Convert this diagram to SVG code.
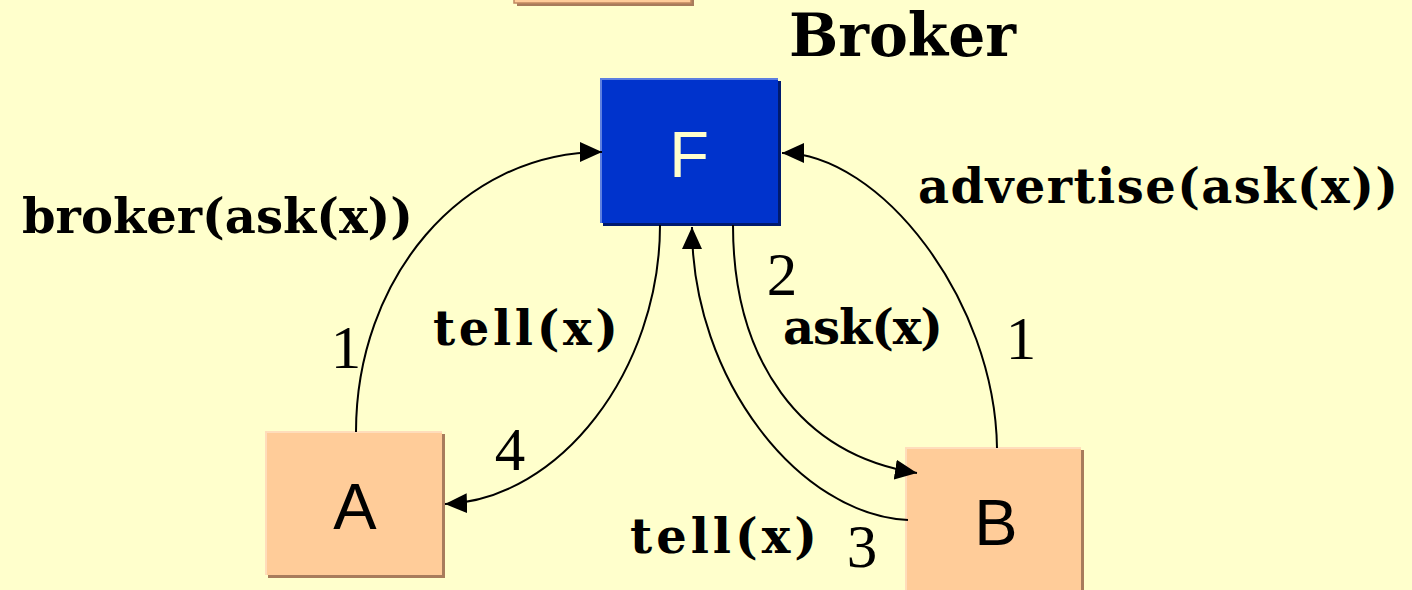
<svg xmlns="http://www.w3.org/2000/svg" width="1412" height="590" viewBox="0 0 1412 590">
<defs>
<style>
.lbl{font-family:"DejaVu Serif","Liberation Serif",serif;font-weight:bold;font-size:48px;fill:#000}
.num{font-family:"Liberation Serif","Times New Roman",serif;font-size:61px;fill:#000;text-anchor:middle}
.nodetxt{font-family:"Liberation Sans",Arial,sans-serif;font-size:65px;text-anchor:middle}
.conn{fill:none;stroke:#000;stroke-width:2;marker-end:url(#arr)}
.peach{fill:#FFCC99}
.peachsh{fill:#A87C5C}
.peachhl{fill:#FFDDBB}
</style>
<marker id="arr" markerUnits="userSpaceOnUse" markerWidth="22" markerHeight="20" refX="22" refY="10" orient="auto">
<path d="M0,0 L22,10 L0,20 z" fill="#000"/>
</marker>
</defs>
<rect x="0" y="0" width="1412" height="590" fill="#FFFFCC"/>

<g id="node-top">
<rect x="517" y="-10" width="177" height="16" class="peachsh"/>
<rect x="514" y="-12" width="177" height="15" class="peach" stroke="#C08860" stroke-width="1.5"/>
</g>

<g id="title">
<text x="789" y="56" font-family="DejaVu Serif,Liberation Serif,serif" font-weight="bold" font-size="60" textLength="227" lengthAdjust="spacingAndGlyphs">Broker</text>
</g>

<g id="node-F">
<rect x="603" y="81" width="178" height="145" fill="#001A6E"/>
<rect x="600" y="78" width="178" height="145" fill="#0033CC"/>
<rect x="600" y="78" width="178" height="2" fill="#5D7FE0"/>
<rect x="600" y="78" width="2" height="145" fill="#5D7FE0"/>
<text x="689" y="177" class="nodetxt" fill="#FFFFCC">F</text>
</g>

<g id="node-A">
<rect x="268" y="434" width="177" height="144" class="peachsh"/>
<rect x="265" y="431" width="177" height="144" class="peach"/>
<rect x="265" y="431" width="177" height="2" class="peachhl"/>
<rect x="265" y="431" width="2" height="144" class="peachhl"/>
<text x="355" y="529" class="nodetxt" fill="#000">A</text>
</g>

<g id="node-B">
<rect x="908" y="450" width="176" height="150" class="peachsh"/>
<rect x="905" y="447" width="176" height="150" class="peach"/>
<rect x="905" y="447" width="176" height="2" class="peachhl"/>
<rect x="905" y="447" width="2" height="150" class="peachhl"/>
<text x="996" y="545" class="nodetxt" fill="#000">B</text>
</g>

<g id="connectors">
<path class="conn" d="M356,432 C356,280 460,152 602,152"/>
<path class="conn" d="M660,225 C660,370 560,500 445,504"/>
<path class="conn" d="M733,225 C733,360 800,455 917,473"/>
<path class="conn" d="M908,520 C800,515 692,380 692,227"/>
<path class="conn" d="M997,448 C995,300 880,153 782,153"/>
</g>

<g id="labels">
<text x="22" y="233" class="lbl" textLength="391" lengthAdjust="spacingAndGlyphs">broker(ask(x))</text>
<text x="918" y="203" class="lbl" textLength="480" lengthAdjust="spacing">advertise(ask(x))</text>
<text x="433" y="345" class="lbl" textLength="185" lengthAdjust="spacing">tell(x)</text>
<text x="783" y="344" class="lbl" textLength="160" lengthAdjust="spacing">ask(x)</text>
<text x="630" y="553" class="lbl" textLength="187" lengthAdjust="spacing">tell(x)</text>
<text x="346" y="368" class="num">1</text>
<text x="1021" y="359" class="num">1</text>
<text x="782" y="295" class="num">2</text>
<text x="510" y="470" class="num">4</text>
<text x="862" y="567" class="num">3</text>
</g>
</svg>
